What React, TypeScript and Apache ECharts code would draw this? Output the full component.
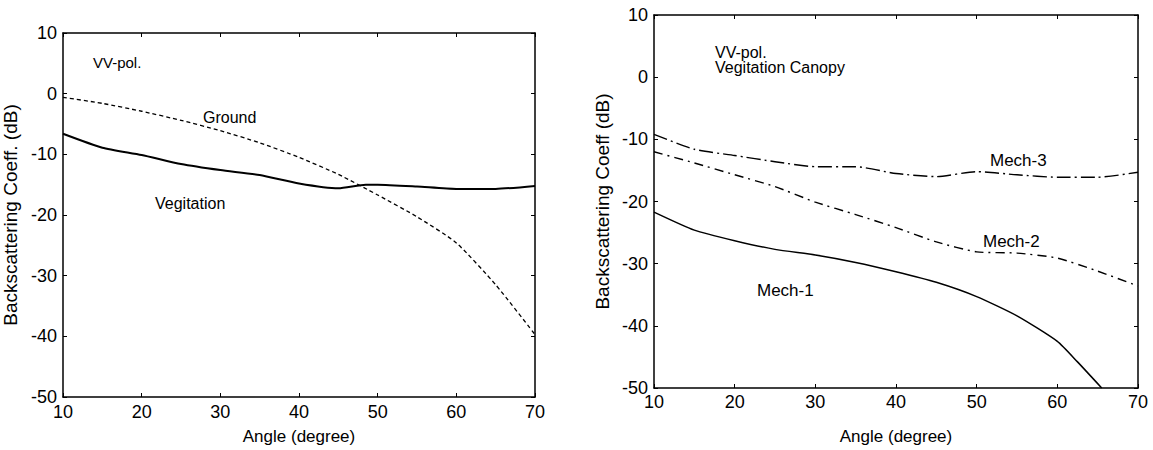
import React, { useEffect, useRef } from "react";
import * as echarts from "echarts";

const angles = [10, 15, 20, 25, 30, 35, 40, 45, 48.5, 50, 55, 60, 65, 70];
const vegetation = [-6.6, -8.9, -10.1, -11.6, -12.6, -13.4, -14.8, -15.6, -15.0, -15.0, -15.3, -15.7, -15.7, -15.2];
const groundAngles = [10, 15, 20, 25, 30, 35, 40, 45, 50, 55, 60, 65, 70];
const ground = [-0.6, -1.6, -2.9, -4.4, -6.1, -8.1, -10.5, -13.3, -16.7, -20.3, -24.6, -31.5, -39.7];

const mechAngles = [10, 15, 20, 25, 30, 35, 40, 45, 50, 55, 60, 65, 70];
const mech1Angles = [10, 15, 20, 25, 30, 35, 40, 45, 50, 55, 60, 62.5, 65.5];
const mech1 = [-21.7, -24.6, -26.3, -27.7, -28.6, -29.8, -31.3, -33.0, -35.3, -38.4, -42.5, -45.8, -50];
const mech2 = [-12.0, -13.8, -15.7, -17.6, -20.1, -22.1, -24.2, -26.5, -28.1, -28.3, -29.1, -31.2, -33.6];
const mech3 = [-9.2, -11.6, -12.6, -13.6, -14.4, -14.4, -15.5, -16.0, -15.2, -15.7, -16.1, -16.1, -15.3];

const xTicks = [10, 20, 30, 40, 50, 60, 70];
const yTicks = [-50, -40, -30, -20, -10, 0, 10];

const FONT = "Liberation Sans";

function pairs(xs: number[], ys: number[]) {
  return xs.map((x, i) => [x, ys[i]]);
}

export default function App() {
  const ref = useRef<HTMLDivElement>(null);
  useEffect(() => {
    document.body.style.margin = "0";
    const chart = echarts.init(ref.current!, null, { renderer: "svg" });
    const axisLine = { show: true, onZero: false, lineStyle: { color: "#000", width: 1.5 } };
    const tick = { show: true, inside: true, length: 4, lineStyle: { color: "#000", width: 1 } };
    const mkX = (gi: number, margin: number, gap: number) => [
      {
        type: "value", gridIndex: gi, min: xTicks[0], max: xTicks[xTicks.length - 1], interval: 10,
        position: "bottom", axisLine, axisTick: tick, splitLine: { show: false },
        axisLabel: { color: "#000", fontFamily: FONT, fontSize: 18, margin },
        name: "Angle (degree)", nameLocation: "middle", nameGap: gap,
        nameTextStyle: { color: "#000", fontFamily: FONT, fontSize: 17 },
      },
      {
        type: "value", gridIndex: gi, min: xTicks[0], max: xTicks[xTicks.length - 1], interval: 10,
        position: "top", axisLine, axisTick: tick, splitLine: { show: false }, axisLabel: { show: false },
      },
    ];
    const mkY = (gi: number, name: string, gap: number) => [
      {
        type: "value", gridIndex: gi, min: yTicks[0], max: yTicks[yTicks.length - 1], interval: 10,
        position: "left", axisLine, axisTick: tick, splitLine: { show: false },
        axisLabel: { color: "#000", fontFamily: FONT, fontSize: 18, margin: 6 },
        name, nameLocation: "middle", nameGap: gap,
        nameTextStyle: { color: "#000", fontFamily: FONT, fontSize: 19 },
      },
      {
        type: "value", gridIndex: gi, min: yTicks[0], max: yTicks[yTicks.length - 1], interval: 10,
        position: "right", axisLine, axisTick: tick, splitLine: { show: false }, axisLabel: { show: false },
      },
    ];
    const line = (name: string, xi: number, yi: number, data: number[][], type: any, width: number) => ({
      name, type: "line", xAxisIndex: xi, yAxisIndex: yi, data, smooth: 0.2, symbol: "none",
      lineStyle: { color: "#000", width, type },
    });
    const txt = (text: string, x: number, y: number, size: number) => ({
      type: "text", x, y,
      style: { text, fill: "#000", font: `${size}px "${FONT}"`, textVerticalAlign: "middle", textAlign: "left" },
    });
    chart.setOption({
      animation: false,
      backgroundColor: "#fff",
      grid: [
        { left: 61, top: 33, width: 474, height: 370 },
        { left: 654, top: 15, width: 484, height: 379 },
      ],
      xAxis: [...mkX(0, 6, 31), ...mkX(1, 5, 40)],
      yAxis: [...mkY(0, "Backscattering Coeff. (dB)", 43), ...mkY(1, "Backscattering Coeff (dB)", 42)],
      series: [
        line("Vegitation", 0, 0, pairs(angles, vegetation), "solid", 2),
        line("Ground", 0, 0, pairs(groundAngles, ground), [4, 3], 1.3),
        line("Mech-1", 2, 2, pairs(mech1Angles, mech1), "solid", 1.5),
        line("Mech-2", 2, 2, pairs(mechAngles, mech2), [9, 5, 2, 5], 1.4),
        line("Mech-3", 2, 2, pairs(mechAngles, mech3), [14, 4, 2, 4], 1.4),
      ],
      graphic: [
        txt("VV-pol.", 93, 62, 15),
        txt("Ground", 203, 117, 16),
        txt("Vegitation", 155, 203, 16),
        txt("VV-pol.", 715, 52, 16),
        txt("Vegitation Canopy", 715, 67, 16),
        txt("Mech-3", 990, 160, 17),
        txt("Mech-2", 983, 241, 17),
        txt("Mech-1", 757, 290, 17),
      ],
    });
    return () => chart.dispose();
  }, []);
  return <div ref={ref} style={{ width: 1153, height: 450 }} />;
}
